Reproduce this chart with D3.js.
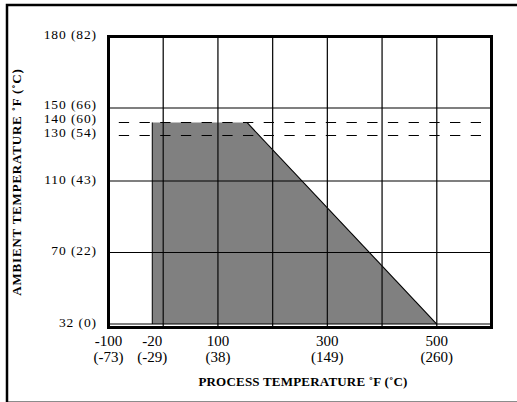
<!DOCTYPE html>
<html>
<head>
<meta charset="utf-8">
<script src="https://cdn.jsdelivr.net/npm/d3@7"></script>
<style>
  html, body { margin: 0; padding: 0; background: #fff; }
  svg { display: block; }
  text { font-family: "Liberation Serif", "Times New Roman", serif; fill: #000; }
</style>
</head>
<body>
<script>
// chart values
const xTicksF = [-100, -20, 100, 300, 500];
const xTicksC = ['(-73)', '(-29)', '(38)', '(149)', '(260)'];
const yTicksF = [180, 150, 140, 130, 110, 70, 32];
const yTicksC = ['(82)', '(66)', '(60)', '(54)', '(43)', '(22)', '(0)'];
const xGrid = [0, 100, 200, 300, 400, 500];
const yGrid = [150, 110, 70, 32];
const dashedLimits = [140, 130];
const envelope = [[-20, 32], [-20, 140], [153, 140], [500, 32]];

const width = 517, height = 402;
const plot = { left: 108.5, top: 36.5, right: 491.5, bottom: 327.5 };

const svg = d3.select('body').append('svg')
  .attr('width', width)
  .attr('height', height);

// outer frame (right/bottom run off the page)
svg.append('rect')
  .attr('x', 7).attr('y', 5)
  .attr('width', 540).attr('height', 397.8)
  .attr('fill', 'none')
  .attr('stroke', '#000')
  .attr('stroke-width', 2.5);

const x = d3.scaleLinear()
  .domain([-100, 600])
  .range([plot.left, plot.right]);

// the y axis is not linear in the source, the labelled stops are spaced by hand
const yStops = [30, 32, 70, 110, 130, 140, 150, 180];
const yFrac = [1, 0.988, 0.7423, 0.4966, 0.3402, 0.2955, 0.2457, 0];
const y = d3.scaleLinear()
  .domain(yStops)
  .range(yFrac.map(f => plot.top + f * (plot.bottom - plot.top)));

const line = d3.line().x(d => x(d[0])).y(d => y(d[1]));

// shaded operating region
svg.append('path')
  .datum(envelope)
  .attr('d', line)
  .attr('fill', '#808080')
  .attr('stroke', 'none');

// edges of the region (top edge is the dashed line)
svg.append('path')
  .datum([envelope[0], envelope[1]])
  .attr('d', line)
  .attr('stroke', '#000').attr('stroke-width', 1).attr('fill', 'none');
svg.append('path')
  .datum([envelope[2], envelope[3]])
  .attr('d', line)
  .attr('stroke', '#000').attr('stroke-width', 1.1).attr('fill', 'none');

// grid
svg.append('g').selectAll('line')
  .data(xGrid)
  .enter().append('line')
  .attr('x1', d => x(d)).attr('x2', d => x(d))
  .attr('y1', plot.top).attr('y2', plot.bottom)
  .attr('stroke', '#111')
  .attr('stroke-width', 1.3);

svg.append('g').selectAll('line')
  .data(yGrid)
  .enter().append('line')
  .attr('x1', plot.left).attr('x2', plot.right)
  .attr('y1', d => y(d)).attr('y2', d => y(d))
  .attr('stroke', '#000')
  .attr('stroke-width', 1.2);

svg.append('g').selectAll('line')
  .data(dashedLimits)
  .enter().append('line')
  .attr('x1', plot.left).attr('x2', plot.right)
  .attr('y1', d => y(d)).attr('y2', d => y(d))
  .attr('stroke', '#000')
  .attr('stroke-width', 1.2)
  .attr('stroke-dasharray', '10.3,10.4')
  .attr('stroke-dashoffset', 10.4);

// plot frame
svg.append('rect')
  .attr('x', plot.left).attr('y', plot.top)
  .attr('width', plot.right - plot.left)
  .attr('height', plot.bottom - plot.top)
  .attr('fill', 'none')
  .attr('stroke', '#000')
  .attr('stroke-width', 3);

// y tick labels; the three near the limit lines are packed tight, so spread them evenly
const labelShift = d => (d === 140 ? 0.5 : (d === 150 || d === 130) ? 1.5 : 2.5);
svg.append('g').selectAll('text')
  .data(yTicksF)
  .enter().append('text')
  .attr('x', 97)
  .attr('y', d => y(d) + labelShift(d))
  .attr('text-anchor', 'end')
  .style('font-size', '13.5px')
  .style('letter-spacing', '0.9px')
  .text((d, i) => `${d} ${yTicksC[i]}`);

// x tick labels, two rows
const xl = svg.append('g').selectAll('g')
  .data(xTicksF)
  .enter().append('g');
xl.append('text')
  .attr('x', d => x(d))
  .attr('y', 345.5)
  .attr('text-anchor', 'middle')
  .style('font-size', '15px')
  .text(d => d);
xl.append('text')
  .attr('x', d => x(d))
  .attr('y', 362)
  .attr('text-anchor', 'middle')
  .style('font-size', '15px')
  .text((d, i) => xTicksC[i]);

// axis titles
svg.append('text')
  .attr('x', 303)
  .attr('y', 386)
  .attr('text-anchor', 'middle')
  .style('font-size', '13px')
  .style('font-weight', 'bold')
  .style('letter-spacing', '0.2px')
  .text('PROCESS TEMPERATURE ˚F (˚C)');

svg.append('text')
  .attr('transform', 'translate(20.5,182) rotate(-90)')
  .attr('text-anchor', 'middle')
  .style('font-size', '13px')
  .style('font-weight', 'bold')
  .style('letter-spacing', '0.8px')
  .text('AMBIENT TEMPERATURE ˚F (˚C)');
</script>
</body>
</html>
